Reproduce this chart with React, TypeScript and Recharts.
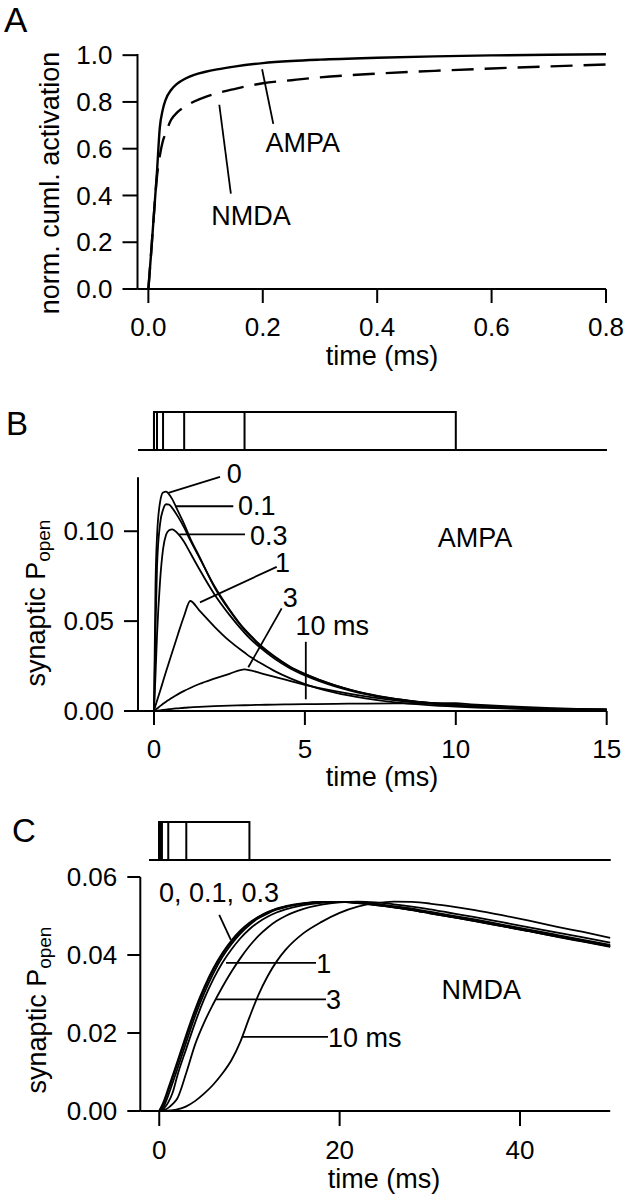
import { LineChart, Line, XAxis, YAxis, ReferenceLine, ReferenceDot } from 'recharts'

const FONT = '"Liberation Sans", Arial, Helvetica, sans-serif'

// A: normalised cumulative activation vs time (ms)
const timeA = [0, 0.005, 0.01, 0.015, 0.02, 0.025, 0.03, 0.04, 0.05, 0.065, 0.08, 0.1, 0.12, 0.15, 0.2, 0.25, 0.3, 0.4, 0.5, 0.6, 0.7, 0.8]
const ampaCum = [0, 0.16, 0.33, 0.5, 0.69, 0.765, 0.808, 0.852, 0.877, 0.9, 0.916, 0.929, 0.939, 0.951, 0.966, 0.975, 0.981, 0.989, 0.995, 0.999, 1.002, 1.004]
const nmdaCum = [0, 0.16, 0.33, 0.48, 0.57, 0.63, 0.665, 0.725, 0.754, 0.781, 0.802, 0.822, 0.837, 0.855, 0.88, 0.893, 0.905, 0.921, 0.933, 0.943, 0.952, 0.96]
const ticksAx = [0, 0.2, 0.4, 0.6, 0.8]
const ticksAy = [0, 0.2, 0.4, 0.6, 0.8, 1.0]

// B: AMPA synaptic Popen for pulse durations 0, 0.1, 0.3, 1, 3, 10 ms
const timeB = [0, 0.05, 0.1, 0.2, 0.3, 0.4, 0.5, 0.6, 0.8, 1.0, 1.2, 1.5, 2, 2.5, 3, 3.2, 3.5, 4, 4.5, 5, 6, 7, 8, 9, 10, 10.5, 11, 12, 13, 14, 15]
const ampa0 = [0, 0.07, 0.097, 0.116, 0.1215, 0.122, 0.1205, 0.118, 0.111, 0.104, 0.096, 0.086, 0.069, 0.056, 0.045, 0.0415, 0.0365, 0.03, 0.0245, 0.0205, 0.0142, 0.0097, 0.0067, 0.0047, 0.0033, 0.0028, 0.0024, 0.0017, 0.0012, 0.0009, 0.0007]
const ampa01 = [0, 0.045, 0.08, 0.104, 0.112, 0.115, 0.1148, 0.113, 0.108, 0.102, 0.095, 0.0855, 0.0695, 0.0565, 0.0455, 0.042, 0.037, 0.0303, 0.0248, 0.0207, 0.0143, 0.0098, 0.0068, 0.0048, 0.0034, 0.0029, 0.0024, 0.0017, 0.0012, 0.0009, 0.0007]
const ampa03 = [0, 0.02, 0.042, 0.072, 0.09, 0.098, 0.1005, 0.101, 0.0985, 0.094, 0.088, 0.079, 0.065, 0.0535, 0.0435, 0.04, 0.0355, 0.029, 0.0238, 0.0198, 0.0137, 0.0094, 0.0065, 0.0046, 0.0032, 0.0027, 0.0023, 0.0016, 0.0012, 0.0009, 0.0007]
const ampa1 = [0, 0.003, 0.0057, 0.011, 0.0165, 0.022, 0.0273, 0.0325, 0.043, 0.053, 0.0612, 0.056, 0.047, 0.039, 0.0325, 0.03, 0.027, 0.0222, 0.0183, 0.015, 0.0102, 0.007, 0.0048, 0.0034, 0.0024, 0.002, 0.0017, 0.0012, 0.0009, 0.0007, 0.0005]
const ampa3 = [0, 0.0007, 0.0014, 0.0027, 0.004, 0.0052, 0.0063, 0.0074, 0.0094, 0.0112, 0.0128, 0.015, 0.018, 0.0207, 0.0232, 0.0226, 0.0212, 0.019, 0.0167, 0.0146, 0.011, 0.0081, 0.0059, 0.0043, 0.0031, 0.0026, 0.0022, 0.0016, 0.0012, 0.0009, 0.0007]
const ampa10 = [0, 0.0001, 0.0002, 0.0004, 0.0006, 0.0008, 0.001, 0.0012, 0.0015, 0.0018, 0.002, 0.0023, 0.0027, 0.003, 0.0032, 0.0033, 0.0034, 0.0036, 0.0037, 0.0038, 0.004, 0.0041, 0.0042, 0.0043, 0.0043, 0.0037, 0.0032, 0.0024, 0.0017, 0.0012, 0.0009]
const ticksBx = [0, 5, 10, 15]
const ticksBy = [0, 0.05, 0.1]

// C: NMDA synaptic Popen, same pulse durations
const timeC = [0, 0.5, 1, 1.5, 2, 3, 4, 5, 6, 7, 8, 9, 10, 11, 12, 13, 14, 16, 18, 20, 22, 24, 26, 28, 30, 32, 35, 38, 41, 44, 47, 50]
const nmda0 = [0, 0.0025, 0.0058, 0.0092, 0.0126, 0.0196, 0.0262, 0.0318, 0.0366, 0.0405, 0.0437, 0.0463, 0.0483, 0.0498, 0.051, 0.0519, 0.0525, 0.0533, 0.0536, 0.0536, 0.0533, 0.0528, 0.0522, 0.0515, 0.0507, 0.0499, 0.0487, 0.0474, 0.0461, 0.0447, 0.0434, 0.0421]
const nmda01 = [0, 0.002, 0.0052, 0.0086, 0.012, 0.019, 0.0256, 0.0313, 0.0362, 0.0402, 0.0434, 0.046, 0.0481, 0.0497, 0.0509, 0.0518, 0.0524, 0.0532, 0.0536, 0.0536, 0.0533, 0.0528, 0.0522, 0.0515, 0.0507, 0.0499, 0.0487, 0.0474, 0.0461, 0.0448, 0.0435, 0.0422]
const nmda03 = [0, 0.0012, 0.004, 0.0073, 0.0107, 0.0177, 0.0245, 0.0303, 0.0353, 0.0395, 0.0428, 0.0455, 0.0477, 0.0494, 0.0506, 0.0516, 0.0523, 0.0532, 0.0536, 0.0536, 0.0534, 0.0529, 0.0523, 0.0516, 0.0508, 0.05, 0.0488, 0.0475, 0.0462, 0.0449, 0.0436, 0.0423]
const nmda1 = [0, 0.0006, 0.0022, 0.0048, 0.009, 0.016, 0.0228, 0.0288, 0.0338, 0.038, 0.0414, 0.0443, 0.0466, 0.0484, 0.0498, 0.0509, 0.0517, 0.0528, 0.0534, 0.0536, 0.0535, 0.0531, 0.0525, 0.0519, 0.0511, 0.0503, 0.0491, 0.0478, 0.0465, 0.0452, 0.0439, 0.0426]
const nmda3 = [0, 0.0002, 0.0008, 0.0018, 0.0032, 0.0098, 0.0172, 0.0228, 0.0275, 0.0318, 0.0357, 0.0392, 0.0423, 0.0449, 0.047, 0.0487, 0.05, 0.0518, 0.0529, 0.0535, 0.0537, 0.0535, 0.053, 0.0524, 0.0517, 0.0509, 0.0497, 0.0484, 0.0471, 0.0458, 0.0445, 0.0432]
const nmda10 = [0, 0, 0.0001, 0.0002, 0.0004, 0.0012, 0.0026, 0.0045, 0.0068, 0.0096, 0.013, 0.0178, 0.024, 0.0298, 0.0345, 0.0383, 0.0413, 0.0456, 0.0485, 0.0508, 0.0524, 0.0533, 0.0537, 0.0536, 0.0532, 0.0526, 0.0515, 0.0502, 0.0488, 0.0473, 0.0459, 0.0444]
const ticksCx = [0, 20, 40]
const ticksCy = [0, 0.02, 0.04, 0.06]

const pulseDurations = [0, 0.1, 0.3, 1, 3, 10]

// annotation lines [t1, v1, t2, v2] and texts, in data units
const linesA = [[0.1988, 0.94, 0.2184, 0.706], [0.124, 0.788, 0.1442, 0.408]]
const textsA = [{ s: 'AMPA', t: 0.2697, v: 0.6276, a: 'middle' }, { s: 'NMDA', t: 0.1795, v: 0.3153, a: 'middle' }]
const linesB = [[0.474, 0.1213, 2.187, 0.1302], [0.696, 0.1139, 2.628, 0.1139], [0.838, 0.0983, 3.015, 0.0983], [1.524, 0.0604, 4.066, 0.0802], [3.125, 0.0243, 4.231, 0.0571], [5.03, 0.0065, 5.03, 0.0385]]
const textsB = [
  { s: '0', t: 2.41, v: 0.1322, a: 'start' },
  { s: '0.1', t: 2.78, v: 0.1144, a: 'start' },
  { s: '0.3', t: 3.18, v: 0.0978, a: 'start' },
  { s: '1', t: 4.01, v: 0.0828, a: 'start' },
  { s: '3', t: 4.27, v: 0.0633, a: 'start' },
  { s: '10 ms', t: 4.69, v: 0.0478, a: 'start' },
  { s: 'AMPA', t: 10.64, v: 0.0967, a: 'middle' },
]
const linesC = [[6.65, 0.0503, 7.94, 0.0439], [7.41, 0.038, 17.38, 0.038], [6.3, 0.0286, 18.49, 0.0286], [9.18, 0.019, 18.71, 0.019]]
const textsC = [
  { s: '0, 0.1, 0.3', t: -0.02, v: 0.056, a: 'start' },
  { s: '1', t: 17.4, v: 0.038, a: 'start' },
  { s: '3', t: 18.5, v: 0.0286, a: 'start' },
  { s: '10 ms', t: 18.7, v: 0.019, a: 'start' },
  { s: 'NMDA', t: 35.7, v: 0.0311, a: 'middle' },
]

const rows = (ts: number[], vs: number[]) => ts.map((t, i) => ({ t, v: vs[i] }))

const pulseRows = (d: number, start: number, end: number) => [
  { t: start, v: 0 }, { t: 0, v: 0 }, { t: 0, v: 1 }, { t: d, v: 1 }, { t: d, v: 0 }, { t: end, v: 0 },
]

const axisLine = { stroke: '#000', strokeWidth: 2 }
const tickFont = { fill: '#000', fontSize: 26, fontFamily: FONT }

type Note = { s: string; t: number; v: number; a: string }

function annotations(lines: number[][], texts: Note[]) {
  const out: any[] = []
  lines.forEach((l, i) =>
    out.push(
      <ReferenceLine
        key={'l' + i}
        segment={[{ x: l[0], y: l[1] }, { x: l[2], y: l[3] }]}
        stroke="#000"
        strokeWidth={1.8}
        ifOverflow="visible"
      />
    )
  )
  texts.forEach((n, i) =>
    out.push(
      <ReferenceDot
        key={'t' + i}
        x={n.t}
        y={n.v}
        r={0}
        ifOverflow="visible"
        shape={(p: any) => (
          <text x={p.cx} y={p.cy} dy="0.36em" textAnchor={n.a} fontSize={27} fontFamily={FONT} fill="#000">
            {n.s}
          </text>
        )}
      />
    )
  )
  return out
}

function Stimulus({ top, left, right, domain, start, end }: { top: number; left: number; right: number; domain: number[]; start: number; end: number }) {
  return (
    <div style={{ position: 'absolute', left: 0, top }}>
      <LineChart width={627} height={60} margin={{ top: 12, right, bottom: 10, left }}>
        <XAxis type="number" dataKey="t" domain={domain} hide />
        <YAxis type="number" domain={[0, 1]} hide />
        {pulseDurations.map((d) => (
          <Line
            key={d}
            data={pulseRows(d, start, end)}
            dataKey="v"
            type="linear"
            stroke="#000"
            strokeWidth={2}
            dot={false}
            isAnimationActive={false}
          />
        ))}
      </LineChart>
    </div>
  )
}

export default function App() {
  const curveB = [ampa0, ampa01, ampa03, ampa1, ampa3, ampa10]
  const curveC = [nmda0, nmda01, nmda03, nmda1, nmda3, nmda10]

  return (
    <div style={{ position: 'absolute', left: 0, top: 0, width: 627, height: 1199, background: '#fff' }}>
      {/* panel A */}
      <div style={{ position: 'absolute', left: 0, top: 0 }}>
        <LineChart width={627} height={350} margin={{ top: 54, right: 21, bottom: 0, left: 57.5 }}>
          <XAxis
            type="number"
            dataKey="t"
            domain={[-0.019, 0.8]}
            ticks={ticksAx}
            interval={0}
            tickFormatter={(v: number) => v.toFixed(1)}
            axisLine={axisLine}
            tickLine={axisLine}
            tickSize={14}
            tickMargin={15}
            tick={tickFont}
            height={61}
          />
          <YAxis
            type="number"
            domain={[0, 1.005]}
            ticks={ticksAy}
            interval={0}
            tickFormatter={(v: number) => v.toFixed(1)}
            axisLine={axisLine}
            tickLine={axisLine}
            tickSize={15}
            tickMargin={10}
            tick={tickFont}
            width={80}
          />
          <Line data={rows(timeA, ampaCum)} dataKey="v" type="monotone" stroke="#000" strokeWidth={2.4} dot={false} isAnimationActive={false} />
          <Line data={rows(timeA, nmdaCum)} dataKey="v" type="monotone" stroke="#000" strokeWidth={2.4} strokeDasharray="22 11" dot={false} isAnimationActive={false} />
          {annotations(linesA, textsA)}
        </LineChart>
      </div>

      {/* panel B */}
      <Stimulus top={400} left={138} right={20.3} domain={[-0.53, 15]} start={-0.53} end={15} />
      <div style={{ position: 'absolute', left: 0, top: 460 }}>
        <LineChart width={627} height={312} margin={{ top: 17.3, right: 20.3, bottom: 0, left: 58 }}>
          <XAxis
            type="number"
            dataKey="t"
            domain={[-0.53, 15]}
            ticks={ticksBx}
            interval={0}
            axisLine={axisLine}
            tickLine={axisLine}
            tickSize={14}
            tickMargin={15}
            tick={tickFont}
            height={61}
          />
          <YAxis
            type="number"
            domain={[0, 0.13]}
            ticks={ticksBy}
            interval={0}
            tickFormatter={(v: number) => v.toFixed(2)}
            axisLine={axisLine}
            tickLine={axisLine}
            tickSize={14}
            tickMargin={10}
            tick={tickFont}
            width={80}
          />
          {curveB.map((vals, i) => (
            <Line key={i} data={rows(timeB, vals)} dataKey="v" type="monotone" stroke="#000" strokeWidth={1.8} dot={false} isAnimationActive={false} />
          ))}
          {annotations(linesB, textsB)}
        </LineChart>
      </div>

      {/* panel C */}
      <Stimulus top={810} left={140.3} right={16.8} domain={[-2.1, 50]} start={-1.1} end={50} />
      <div style={{ position: 'absolute', left: 0, top: 860 }}>
        <LineChart width={627} height={312} margin={{ top: 17, right: 16.8, bottom: 0, left: 60.3 }}>
          <XAxis
            type="number"
            dataKey="t"
            domain={[-2.1, 50]}
            ticks={ticksCx}
            interval={0}
            axisLine={axisLine}
            tickLine={axisLine}
            tickSize={15}
            tickMargin={15}
            tick={tickFont}
            height={61}
          />
          <YAxis
            type="number"
            domain={[0, 0.06]}
            ticks={ticksCy}
            interval={0}
            tickFormatter={(v: number) => v.toFixed(2)}
            axisLine={axisLine}
            tickLine={axisLine}
            tickSize={13}
            tickMargin={10}
            tick={tickFont}
            width={80}
          />
          {curveC.map((vals, i) => (
            <Line key={i} data={rows(timeC, vals)} dataKey="v" type="monotone" stroke="#000" strokeWidth={1.8} dot={false} isAnimationActive={false} />
          ))}
          {annotations(linesC, textsC)}
        </LineChart>
      </div>

      {/* panel letters and axis titles */}
      <svg width={627} height={1199} style={{ position: 'absolute', left: 0, top: 0, pointerEvents: 'none' }} fontFamily={FONT} fill="#000">
        <text x={4} y={32} fontSize={35}>A</text>
        <text x={6} y={435} fontSize={33}>B</text>
        <text x={12} y={842} fontSize={33}>C</text>
        <text transform="translate(59,183) rotate(-90)" textAnchor="middle" fontSize={27}>norm. cuml. activation</text>
        <text transform="translate(45,603) rotate(-90)" textAnchor="middle" fontSize={27}>
          synaptic P<tspan fontSize={19} dy={5}>open</tspan>
        </text>
        <text transform="translate(46,1010) rotate(-90)" textAnchor="middle" fontSize={27}>
          synaptic P<tspan fontSize={19} dy={5}>open</tspan>
        </text>
        <text x={382} y={365} textAnchor="middle" fontSize={27}>time (ms)</text>
        <text x={382} y={786} textAnchor="middle" fontSize={27}>time (ms)</text>
        <text x={384} y={1188} textAnchor="middle" fontSize={27}>time (ms)</text>
      </svg>
    </div>
  )
}
